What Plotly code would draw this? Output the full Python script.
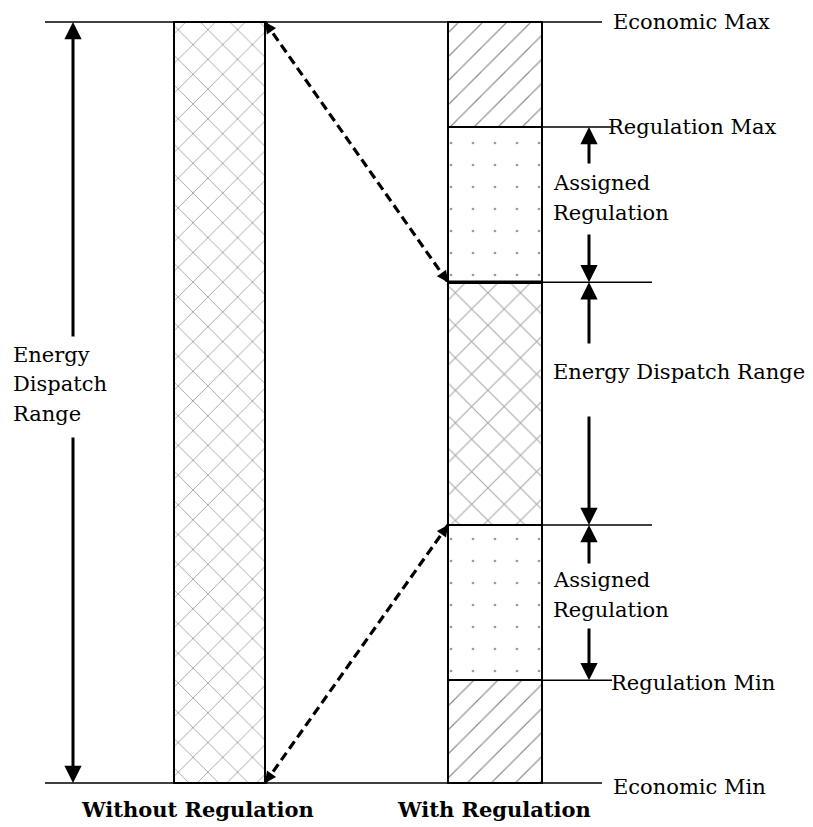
import math
import plotly.graph_objects as go

# ---- data: operating levels (percent of economic range) ----
level_names = ["Economic Min", "Regulation Min", "Dispatch Low", "Dispatch High", "Regulation Max", "Economic Max"]
level_values = [0.0, 13.5, 33.9, 65.8, 86.2, 100.0]

# right-bar segments (from bottom to top)
seg_bases = [0.0, 13.5, 33.9, 65.8, 86.2]
seg_tops = [13.5, 33.9, 65.8, 86.2, 100.0]
seg_kinds = ["brick", "dots", "cross", "dots", "brick"]

bar_labels = ["Without Regulation", "With Regulation"]
edge_labels = ["Economic Max", "Regulation Max", "Regulation Min", "Economic Min"]

# ---- layout helpers (pixel geometry of the canvas) ----
W, H = 813, 827
Y_TOP_PX, Y_BOT_PX = 22, 783
PPU = (Y_BOT_PX - Y_TOP_PX) / 100.0


def yv(px):
    return (Y_BOT_PX - px) / PPU


def ypx(v):
    return Y_BOT_PX - v * PPU


L = dict(zip(level_names, level_values))
FONT = "DejaVu Serif"
FS = 21

LB_X0, LB_X1 = 174, 265
RB_X0, RB_X1 = 448, 542
ARR_X = 589
LEFT_ARR_X = 73

patterns = {
    "cross": dict(shape="x", size=21, solidity=0.09, fgcolor="#a8a8a8", bgcolor="white"),
    "dots": dict(shape=".", size=22, solidity=0.012, fgcolor="#9a9a9a", bgcolor="white"),
    "brick": dict(shape="/", size=17, solidity=0.07, fgcolor="#8a8a8a", bgcolor="white"),
}

fig = go.Figure()

# left bar
fig.add_trace(go.Bar(
    x=[(LB_X0 + LB_X1) / 2], y=[L["Economic Max"] - L["Economic Min"]], base=[L["Economic Min"]],
    width=[LB_X1 - LB_X0],
    marker=dict(color="white", pattern=dict(**patterns["cross"], fillmode="replace"),
                line=dict(color="black", width=2)),
    hoverinfo="skip", showlegend=False))

# right bar segments
for b, t, k in zip(seg_bases, seg_tops, seg_kinds):
    p = dict(patterns[k])
    if k == "cross":
        p["size"] = 23
    fig.add_trace(go.Bar(
        x=[(RB_X0 + RB_X1) / 2], y=[t - b], base=[b], width=[RB_X1 - RB_X0],
        marker=dict(color="white", pattern=dict(**p, fillmode="replace"),
                    line=dict(color="black", width=2)),
        hoverinfo="skip", showlegend=False))

shapes = []


def hline(y, x0, x1, w=1.6):
    shapes.append(dict(type="line", xref="x", yref="y", x0=x0, x1=x1, y0=y, y1=y,
                       line=dict(color="black", width=w)))


hline(L["Economic Max"], 45, 602)
hline(L["Economic Min"], 45, 602)
hline(L["Regulation Max"], RB_X0, 611)
hline(L["Dispatch High"], RB_X0, 652)
hline(L["Dispatch Low"], RB_X0, 652)
hline(L["Regulation Min"], RB_X0, 612)
hline(L["Dispatch High"], RB_X0, RB_X1, w=3.5)

# dashed connectors
for a, b in [(L["Economic Max"], L["Dispatch High"]), (L["Economic Min"], L["Dispatch Low"])]:
    shapes.append(dict(type="line", xref="x", yref="y", x0=LB_X1, y0=a, x1=RB_X0, y1=b,
                       line=dict(color="black", width=3.2, dash="9px,5px")))

annotations = []


def arrow(x, y_head, y_tail, w=3):
    annotations.append(dict(x=x, y=y_head, ax=x, ay=y_tail, xref="x", yref="y", axref="x", ayref="y",
                            text="", showarrow=True, arrowhead=2, arrowsize=1.15, arrowwidth=w,
                            arrowcolor="black", standoff=0, startstandoff=0))


# left double arrow with gap for text
arrow(LEFT_ARR_X, L["Economic Max"], yv(338))
arrow(LEFT_ARR_X, L["Economic Min"], yv(436))

# right-side arrows
arrow(ARR_X, L["Regulation Max"], yv(165))
arrow(ARR_X, L["Dispatch High"], yv(233))
arrow(ARR_X, L["Dispatch High"], yv(345))
arrow(ARR_X, L["Dispatch Low"], yv(415))
arrow(ARR_X, L["Dispatch Low"], yv(565))
arrow(ARR_X, L["Regulation Min"], yv(627))

# small arrowheads at ends of dashed connectors
for (x0, v0, x1, v1) in [(LB_X1, L["Economic Max"], RB_X0, L["Dispatch High"]),
                         (LB_X1, L["Economic Min"], RB_X0, L["Dispatch Low"])]:
    p0 = (x0, ypx(v0))
    p1 = (x1, ypx(v1))
    dx, dy = p1[0] - p0[0], p1[1] - p0[1]
    n = math.hypot(dx, dy)
    ux, uy = dx / n, dy / n
    for head, sgn in [(p0, 1), (p1, -1)]:
        tail = (head[0] + sgn * ux * 10, head[1] + sgn * uy * 10)
        annotations.append(dict(x=head[0], y=yv(head[1]), ax=tail[0], ay=yv(tail[1]),
                                xref="x", yref="y", axref="x", ayref="y", text="", showarrow=True,
                                arrowhead=2, arrowsize=0.9, arrowwidth=2.5, arrowcolor="black",
                                standoff=0, startstandoff=0))


def label(x, y, text, anchor="left", bold=False, size=FS):
    annotations.append(dict(x=x, y=y, xref="x", yref="y", text=text, showarrow=False,
                            xanchor=anchor, yanchor="middle",
                            font=dict(family=FONT, size=size, color="black",
                                      weight="bold" if bold else "normal")))


label(611, L["Economic Max"], edge_labels[0])
label(606, L["Regulation Max"], edge_labels[1])
label(609, yv(683), edge_labels[2])
label(611, yv(787), edge_labels[3])

label(551, yv(183), "Assigned")
label(551, yv(213), "Regulation")
label(551, yv(372), "Energy Dispatch Range")
label(551, yv(580), "Assigned")
label(551, yv(610), "Regulation")

label(11, yv(355), "Energy")
label(11, yv(384), "Dispatch")
label(11, yv(414), "Range")

label(197, yv(809), bar_labels[0], anchor="center", bold=True, size=21)
label(494, yv(809), bar_labels[1], anchor="center", bold=True, size=21)

fig.update_layout(
    width=W, height=H, margin=dict(l=0, r=0, t=0, b=0),
    paper_bgcolor="white", plot_bgcolor="white",
    barmode="overlay", bargap=0,
    xaxis=dict(range=[0, W], visible=False, fixedrange=True),
    yaxis=dict(range=[yv(H), yv(0)], visible=False, fixedrange=True),
    shapes=shapes, annotations=annotations, showlegend=False,
)

fig.write_html("out.html", config={"displayModeBar": False},
               post_script="document.body.style.margin='0';document.body.style.overflow='hidden';")
